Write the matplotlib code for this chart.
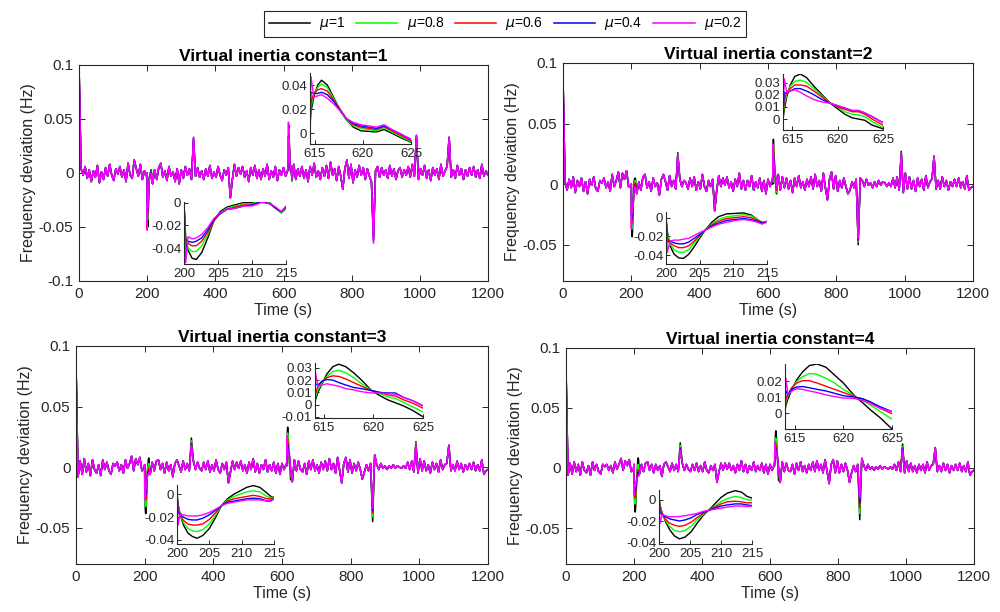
import numpy as np
import matplotlib
matplotlib.use('Agg')
import matplotlib.pyplot as plt
from matplotlib.ticker import FuncFormatter

plt.rcParams['font.family'] = ['Liberation Sans', 'DejaVu Sans']
plt.rcParams['mathtext.fontset'] = 'dejavusans'

mu_labels = ['$\\mu$=1', '$\\mu$=0.8', '$\\mu$=0.6', '$\\mu$=0.4', '$\\mu$=0.2']
mu_colors = ['#000000', '#00ff00', '#ff0000', '#0000ff', '#ff00ff']

# traces sampled every 6 s, values in 1e-3 Hz (all mu overlap outside the events)
t_grid = np.arange(0, 1201, 6)

p1_base = [100, 4, -2, 6, -5, 3, -8, 2, -4, 7,
           -9, 1, -6, 5, -3, 8, -2, -7, 4, -1,
           6, -4, 3, -8, 9, -2, -5, 12, 4, -3,
           8, -6, 2, -3, -40, -20, -10, 3, -6, 5,
           9, -4, 2, -7, 6, -3, 1, -8, 4, -10,
           3, -5, 6, -2, 4, -6, 33, -3, 5, -4,
           2, -6, 4, -3, 7, -5, 1, -4, 6, -2,
           -7, 3, -2, 5, -23, -6, 8, -3, 5, -1,
           6, -4, 2, -8, 5, -2, 7, -5, 3, -6,
           4, -3, 8, -6, 2, -4, 6, -7, 3, -2,
           5, -3, 2, 30, 10, 8, -6, 4, -3, 6,
           -5, 3, -8, 6, -2, 9, -4, 2, -6, 5,
           -3, 7, -5, 10, -2, 4, -7, 6, -3, -15,
           4, 12, -5, 8, -9, 3, -4, 7, -2, 5,
           -6, 4, -3, -8, -65, 2, 6, -4, 5, -2,
           3, -5, 7, -3, 4, -6, 2, 5, -4, 3,
           -2, 6, -4, 8, -3, 35, -6, 4, -2, 7,
           -5, 3, -7, 5, -2, 4, -6, 8, -3, 2,
           6, 33, -4, 3, -5, 7, -2, 4, -6, 3,
           -3, 5, -2, 6, -4, 3, -5, 8, -3, 2,
           -2]
p2_base = [88, 2, -5, 4, -3, 6, -7, 3, -2, 5,
           -6, 2, -8, 4, -1, 6, -4, -6, 3, 1,
           5, -3, 2, -6, 8, -2, 3, 10, -3, 9,
           4, 11, -2, -2, -30, -10, -8, 2, -5, 6,
           8, -3, 2, -6, 5, -2, 1, -9, 4, 8,
           2, -5, 7, -2, 3, -4, 25, 4, -2, 3,
           1, -4, 5, -2, 6, -5, 2, -4, 8, -2,
           -6, 3, -2, 4, -22, -5, 7, -2, 5, -1,
           6, -3, 2, -6, 4, -2, 9, -4, 3, -5,
           3, -2, 7, -5, 2, -3, 5, -6, 3, -8,
           4, -2, 3, 30, 10, 8, -5, 6, -3, 5,
           -4, 3, -7, 5, -2, 7, -3, 2, -5, 4,
           -2, 6, -4, 8, -2, 3, -6, 9, -3, -13,
           4, 10, -4, 7, -6, 3, -3, 5, -2, -8,
           -5, 2, -3, 4, -45, 5, 3, -2, 4, -1,
           1, -3, 2, -2, 3, -1, 2, 1, -2, 1,
           -2, 5, -3, 6, -5, 27, -7, 9, -4, 6,
           -4, 3, -6, 5, -2, 4, -5, 7, -3, 2,
           4, 23, -4, 3, -4, 6, -2, 3, -5, 2,
           -2, 4, -2, 5, -3, 2, -4, 7, -5, -3,
           -2]
p3_base = [85, -8, 5, -6, 7, -4, 3, -7, 6, -2,
           -5, 2, -7, 6, -2, 4, -3, -6, 3, 1,
           4, -3, 2, -5, 6, -1, 3, 9, -3, 7,
           2, 8, -3, -2, -30, -10, -6, 4, -3, 5,
           6, -2, 3, -5, 4, -3, 2, -8, 3, 6,
           1, -4, 5, -2, 3, -3, 18, 5, -2, 4,
           -1, -3, 4, -2, 5, -4, 2, -3, 6, -2,
           -5, 3, -2, 4, -13, -4, 5, -2, 4, -1,
           5, -3, 2, -5, 4, -2, 7, -4, 3, -5,
           2, -2, 6, -4, 2, -3, 4, -5, 3, -6,
           3, -2, 2, 25, 10, -12, 6, -3, 5, -2,
           -4, 3, -6, 5, -2, 6, -3, 2, -5, 4,
           -2, 5, -3, 7, -2, 3, -5, 8, -3, -13,
           3, 8, -4, 6, -5, 3, -3, 4, -2, -10,
           -4, 2, -3, 3, -34, 10, 2, -2, 3, -1,
           1, -2, 1, -1, 2, -1, 1, 0, -1, 1,
           -1, 4, -2, 5, -4, 18, -5, 7, -3, 5,
           -3, 2, -5, 4, -2, 3, -4, 6, -2, 2,
           3, 18, -3, 2, -3, 5, -2, 3, -4, 2,
           -2, 3, -2, 4, -3, 2, -3, 6, -6, -3,
           -2]
p4_base = [82, -6, 4, -5, 5, -3, 3, -6, 5, -2,
           -4, 2, -6, 5, -2, 3, -3, -5, 3, 1,
           3, -2, 2, -4, 5, -1, 3, 8, -2, 6,
           2, 7, -3, -2, -25, -10, -5, 3, -3, 4,
           5, -2, 3, -4, 3, -2, 2, -7, 3, 5,
           1, -3, 4, -2, 3, -3, 15, 4, -2, 3,
           -1, -3, 3, -2, 4, -3, 2, -3, 5, -2,
           -4, 2, -2, 3, -12, -3, 4, -2, 4, -1,
           4, -2, 2, -4, 3, -2, 6, -3, 3, -4,
           2, -2, 5, -3, 2, -2, 4, -4, 3, -5,
           3, -2, 2, 20, 10, -12, 5, -3, 4, -2,
           -3, 3, -5, 4, -2, 5, -3, 2, -4, 3,
           -2, 5, -3, 6, -2, 3, -4, 7, -3, -13,
           3, 7, -4, 6, -4, 3, -3, 4, -2, -12,
           -4, 2, -3, 3, -25, 8, 2, -2, 3, -1,
           1, -2, 1, -1, 2, -1, 1, 0, -1, 1,
           -1, 3, -2, 5, -3, 15, -4, 6, -3, 4,
           -3, 2, -4, 3, -2, 3, -4, 5, -2, 2,
           3, 17, -3, 2, -3, 4, -2, 3, -4, 2,
           -2, 3, -2, 4, -3, 2, -3, 5, -6, -3,
           -2]

# peaks that differ between mu (1e-3 Hz), rows = mu 1 .. 0.2
spike_t = [336, 864, 990]
p1_spk = [[30, -58, 33], [31, -60, 34], [32, -62, 34], [33, -63, 35], [33, -65, 35]]
p2_spk = [[26, -50, 27], [25, -48, 26], [24, -47, 26], [24, -46, 25], [24, -45, 25]]
p3_spk = [[24, -45, 21], [22, -41, 20], [20, -38, 19], [19, -36, 18], [18, -34, 18]]
p4_spk = [[21, -43, 20], [19, -38, 18], [17, -33, 17], [16, -29, 16], [15, -25, 15]]

# zoomed windows (Hz), rows = mu 1 .. 0.2
p1_tA = [200, 200.25, 200.6, 201.2, 201.8, 202.6, 203.5, 204.4, 205.3, 206.3, 207.5, 208.8, 210, 211.4, 212.6, 213.5, 214.3, 215]
p1_A = [[0, -0.030, -0.042, -0.049, -0.050, -0.044, -0.031, -0.016, -0.008, -0.004, -0.002, 0.000, 0.000, 0.003, 0.000, -0.005, -0.009, -0.005],
        [0, -0.034, -0.040, -0.043, -0.043, -0.038, -0.028, -0.016, -0.009, -0.005, -0.003, -0.001, -0.001, 0.002, 0.000, -0.005, -0.009, -0.005],
        [0, -0.038, -0.036, -0.038, -0.038, -0.034, -0.026, -0.016, -0.009, -0.006, -0.004, -0.002, -0.002, 0.001, -0.001, -0.005, -0.008, -0.004],
        [0, -0.042, -0.034, -0.035, -0.034, -0.031, -0.024, -0.015, -0.010, -0.006, -0.005, -0.003, -0.002, 0.001, -0.001, -0.005, -0.008, -0.004],
        [0, -0.053, -0.030, -0.032, -0.031, -0.028, -0.022, -0.014, -0.009, -0.006, -0.005, -0.003, -0.003, 0.000, -0.001, -0.004, -0.008, -0.003]]
p1_tB = [614.5, 614.6, 614.9, 615.3, 615.7, 616.3, 617.0, 617.7, 618.3, 619.0, 619.8, 620.6, 621.4, 622.2, 623.0, 624.0, 625.0]
p1_B = [[0.005, 0.018, 0.030, 0.040, 0.044, 0.040, 0.029, 0.018, 0.011, 0.005, 0.002, 0.0015, 0.001, 0.003, 0.000, -0.004, -0.0075],
        [0.008, 0.022, 0.032, 0.038, 0.041, 0.038, 0.028, 0.019, 0.011, 0.006, 0.004, 0.003, 0.002, 0.0045, 0.001, -0.003, -0.007],
        [0.010, 0.026, 0.033, 0.036, 0.037, 0.035, 0.027, 0.019, 0.012, 0.007, 0.005, 0.004, 0.003, 0.0055, 0.002, -0.002, -0.006],
        [0.012, 0.034, 0.033, 0.033, 0.034, 0.032, 0.026, 0.018, 0.012, 0.008, 0.006, 0.005, 0.004, 0.006, 0.003, -0.001, -0.0055],
        [0.015, 0.047, 0.030, 0.031, 0.032, 0.029, 0.024, 0.018, 0.012, 0.009, 0.007, 0.006, 0.005, 0.007, 0.003, -0.001, -0.005]]

p2_tA = [200, 200.2, 200.6, 201.2, 201.9, 202.6, 203.4, 204.2, 205.0, 205.8, 206.8, 207.8, 209.0, 210.3, 211.5, 212.6, 213.6, 214.3, 215]
p2_A = [[0, -0.015, -0.030, -0.039, -0.043, -0.0435, -0.039, -0.031, -0.022, -0.0135, -0.005, 0.001, 0.004, 0.0045, 0.005, 0.003, -0.002, -0.006, -0.005],
        [0, -0.018, -0.028, -0.034, -0.037, -0.037, -0.034, -0.027, -0.020, -0.0135, -0.007, -0.002, 0.001, 0.002, 0.003, 0.002, -0.002, -0.005, -0.005],
        [0, -0.022, -0.027, -0.030, -0.032, -0.032, -0.030, -0.025, -0.019, -0.0135, -0.008, -0.004, -0.001, 0.000, 0.001, 0.000, -0.003, -0.005, -0.004],
        [0, -0.026, -0.025, -0.027, -0.028, -0.028, -0.026, -0.022, -0.018, -0.0135, -0.009, -0.006, -0.003, -0.002, -0.001, -0.002, -0.004, -0.006, -0.004],
        [0, -0.037, -0.025, -0.024, -0.024, -0.023, -0.022, -0.019, -0.016, -0.0135, -0.010, -0.007, -0.005, -0.003, -0.002, -0.003, -0.005, -0.007, -0.004]]
p2_tB = [614, 614.15, 614.4, 614.8, 615.3, 615.9, 616.6, 617.4, 618.3, 619.2, 620.0, 620.8, 621.6, 622.3, 623.0, 623.8, 625]
p2_B = [[0.000, 0.008, 0.018, 0.028, 0.035, 0.037, 0.034, 0.027, 0.020, 0.013, 0.0085, 0.004, 0.001, 0.000, -0.001, -0.005, -0.008],
        [0.002, 0.012, 0.020, 0.027, 0.031, 0.032, 0.030, 0.025, 0.019, 0.013, 0.010, 0.006, 0.004, 0.0035, 0.002, -0.002, -0.007],
        [0.004, 0.016, 0.022, 0.025, 0.028, 0.028, 0.027, 0.023, 0.018, 0.013, 0.010, 0.008, 0.006, 0.006, 0.004, 0.000, -0.005],
        [0.006, 0.022, 0.021, 0.023, 0.025, 0.025, 0.023, 0.020, 0.016, 0.013, 0.011, 0.009, 0.007, 0.007, 0.005, 0.002, -0.003],
        [0.008, 0.033, 0.022, 0.023, 0.024, 0.022, 0.019, 0.016, 0.014, 0.013, 0.011, 0.009, 0.007, 0.007, 0.005, 0.002, -0.003]]

p3_tA = [200, 200.15, 200.5, 201.0, 201.7, 202.4, 203.1, 204.0, 205.0, 206.0, 206.9, 207.8, 208.8, 209.8, 210.8, 211.8, 212.8, 213.9, 214.5, 215]
p3_A = [[0.002, -0.008, -0.018, -0.027, -0.034, -0.037, -0.0385, -0.036, -0.030, -0.020, -0.010, -0.004, 0.000, 0.003, 0.006, 0.0075, 0.006, 0.001, -0.002, -0.0025],
        [0.002, -0.010, -0.018, -0.025, -0.030, -0.032, -0.0327, -0.031, -0.026, -0.018, -0.010, -0.005, -0.002, 0.000, 0.002, 0.003, 0.002, -0.002, -0.003, -0.002],
        [0.002, -0.013, -0.018, -0.023, -0.026, -0.027, -0.027, -0.026, -0.022, -0.016, -0.010, -0.006, -0.004, -0.003, -0.002, -0.001, -0.002, -0.004, -0.004, -0.003],
        [0.002, -0.016, -0.018, -0.020, -0.022, -0.0225, -0.0225, -0.021, -0.018, -0.014, -0.010, -0.007, -0.006, -0.005, -0.004, -0.0035, -0.004, -0.006, -0.006, -0.004],
        [0.002, -0.027, -0.017, -0.018, -0.019, -0.019, -0.019, -0.018, -0.016, -0.013, -0.010, -0.008, -0.007, -0.006, -0.005, -0.005, -0.005, -0.006, -0.005, -0.004]]
p3_tB = [614.1, 614.15, 614.4, 614.8, 615.3, 615.9, 616.5, 617.2, 618.0, 618.8, 619.8, 620.6, 621.4, 622.2, 623.0, 624.0, 625]
p3_B = [[0.001, 0.004, 0.010, 0.017, 0.025, 0.031, 0.033, 0.031, 0.026, 0.020, 0.0115, 0.0075, 0.004, 0.0015, -0.001, -0.005, -0.010],
        [0.002, 0.006, 0.012, 0.018, 0.023, 0.027, 0.028, 0.026, 0.022, 0.017, 0.0115, 0.009, 0.0065, 0.005, 0.002, -0.002, -0.006],
        [0.003, 0.009, 0.015, 0.019, 0.022, 0.0235, 0.023, 0.021, 0.018, 0.015, 0.0115, 0.010, 0.008, 0.007, 0.004, 0.001, -0.003],
        [0.004, 0.017, 0.016, 0.019, 0.0205, 0.020, 0.018, 0.016, 0.014, 0.013, 0.0115, 0.010, 0.0095, 0.0095, 0.006, 0.003, -0.001],
        [0.005, 0.026, 0.015, 0.016, 0.017, 0.016, 0.015, 0.013, 0.012, 0.0105, 0.0095, 0.0095, 0.009, 0.0085, 0.006, 0.003, -0.001]]

p4_tA = [200, 200.15, 200.5, 201.0, 201.7, 202.5, 203.3, 204.2, 205.2, 206.1, 207.1, 208.0, 209.0, 210.0, 211.0, 212.3, 213.3, 214.2, 215]
p4_A = [[0.003, -0.005, -0.012, -0.020, -0.028, -0.034, -0.0367, -0.035, -0.030, -0.0225, -0.015, -0.010, -0.004, 0.002, 0.006, 0.0084, 0.007, 0.003, 0.0015],
        [0.003, -0.006, -0.012, -0.019, -0.025, -0.029, -0.030, -0.029, -0.025, -0.019, -0.014, -0.010, -0.006, -0.002, 0.001, 0.003, 0.002, 0.000, -0.0005],
        [0.003, -0.008, -0.013, -0.018, -0.022, -0.024, -0.025, -0.024, -0.021, -0.017, -0.013, -0.010, -0.007, -0.004, -0.002, -0.0015, -0.002, -0.003, -0.003],
        [0.003, -0.012, -0.014, -0.016, -0.018, -0.019, -0.020, -0.019, -0.017, -0.014, -0.012, -0.010, -0.008, -0.006, -0.005, -0.004, -0.004, -0.005, -0.0055],
        [0.003, -0.0225, -0.014, -0.015, -0.016, -0.016, -0.0158, -0.015, -0.014, -0.013, -0.011, -0.010, -0.009, -0.008, -0.007, -0.006, -0.006, -0.0065, -0.006]]
p4_tB = [614, 614.1, 614.3, 614.7, 615.2, 615.8, 616.5, 617.3, 618.2, 619.1, 620.0, 620.7, 621.3, 622.0, 622.8, 623.8, 625]
p4_B = [[0.002, 0.005, 0.009, 0.015, 0.021, 0.026, 0.030, 0.031, 0.029, 0.024, 0.019, 0.014, 0.010, 0.0065, 0.002, -0.003, -0.010],
        [0.003, 0.007, 0.011, 0.016, 0.020, 0.023, 0.025, 0.0245, 0.022, 0.019, 0.015, 0.0125, 0.010, 0.008, 0.005, 0.001, -0.0038],
        [0.004, 0.009, 0.012, 0.016, 0.019, 0.0205, 0.0205, 0.019, 0.017, 0.015, 0.013, 0.0115, 0.010, 0.009, 0.007, 0.003, -0.0004],
        [0.006, 0.014, 0.012, 0.015, 0.0165, 0.0168, 0.016, 0.015, 0.014, 0.0125, 0.011, 0.0105, 0.010, 0.009, 0.007, 0.004, 0.001],
        [0.008, 0.022, 0.012, 0.014, 0.0154, 0.015, 0.014, 0.013, 0.0115, 0.0105, 0.0095, 0.0095, 0.009, 0.008, 0.006, 0.003, 0.001]]

titles = ['Virtual inertia constant=1', 'Virtual inertia constant=2',
          'Virtual inertia constant=3', 'Virtual inertia constant=4']

W, H = 1000, 612
AX = '#262626'


def rect(l, t, r, b):
    return [l / W, 1 - b / H, (r - l) / W, (b - t) / H]


def trace(base, spk, k, tA, A, tB, B):
    t = t_grid.astype(float)
    y = np.array(base, float) * 1e-3
    for ts, v in zip(spike_t, spk[k]):
        y[t == ts] = v * 1e-3
    keep = ~(((t >= tA[0]) & (t <= tA[-1])) | ((t >= tB[0]) & (t <= tB[-1])))
    tt = np.concatenate([t[keep], tA, tB])
    yy = np.concatenate([y[keep], A[k], B[k]])
    o = np.argsort(tt)
    return tt[o], yy[o]


fmt = FuncFormatter(lambda v, p: '0' if abs(v) < 1e-12 else '%g' % v)

panels = [
    (p1_base, p1_spk, p1_tA, p1_A, p1_tB, p1_B, rect(79, 65, 488, 281), (-0.1, 0.1), [-0.1, -0.05, 0, 0.05, 0.1],
     rect(184, 202, 286, 264), (-0.054, 0.0005), [-0.04, -0.02, 0],
     rect(310, 73, 411, 144), (614.5, 625), (-0.009, 0.05), [0, 0.02, 0.04]),
    (p2_base, p2_spk, p2_tA, p2_A, p2_tB, p2_B, rect(563, 63, 973, 281), (-0.08, 0.1), [-0.05, 0, 0.05, 0.1],
     rect(666, 212, 767, 264), (-0.0495, 0.006), [-0.04, -0.02, 0],
     rect(783, 74, 883, 130), (614, 625), (-0.009, 0.037), [0, 0.01, 0.02, 0.03]),
    (p3_base, p3_spk, p3_tA, p3_A, p3_tB, p3_B, rect(76, 346, 488, 564), (-0.08, 0.1), [-0.05, 0, 0.05, 0.1],
     rect(177, 485, 274, 544), (-0.0435, 0.008), [-0.04, -0.02, 0],
     rect(315, 363, 423, 418), (614.1, 625), (-0.011, 0.034), [-0.01, 0, 0.01, 0.02, 0.03]),
    (p4_base, p4_spk, p4_tA, p4_A, p4_tB, p4_B, rect(566, 348, 974, 564), (-0.08, 0.1), [-0.05, 0, 0.05, 0.1],
     rect(659, 490, 752, 544), (-0.0415, 0.009), [-0.04, -0.02, 0],
     rect(785, 364, 892, 429), (614, 625), (-0.01, 0.031), [0, 0.01, 0.02]),
]

fig = plt.figure(figsize=(10, 6.12), dpi=100)

handles = []
for i, (base, spk, tA, A, tB, B, pos, ylim, yt, posA, ylA, ytA, posB, xlB, ylB, ytB) in enumerate(panels):
    ax = fig.add_axes(pos)
    curves = [trace(base, spk, k, tA, A, tB, B) for k in range(5)]
    for k, (tt, yy) in enumerate(curves):
        ln, = ax.plot(tt, yy, color=mu_colors[k], lw=1.1)
        if i == 0:
            handles.append(ln)
    ax.set_xlim(0, 1200)
    ax.set_ylim(*ylim)
    ax.set_xticks(range(0, 1201, 200))
    ax.set_yticks(yt)
    ax.yaxis.set_major_formatter(fmt)
    ax.tick_params(direction='in', top=True, right=True, labelsize=11, colors=AX, length=4, width=0.7, pad=4)
    for s in ax.spines.values():
        s.set_color(AX)
        s.set_linewidth(0.8)
    ax.set_xlabel('Time (s)', fontsize=11.5, color=AX, labelpad=2)
    ax.set_ylabel('Frequency deviation (Hz)', fontsize=11.5, color=AX, labelpad=2)
    ax.set_title(titles[i], fontsize=12.5, fontweight='bold', pad=3)

    for ipos, xl, yl, ytk, xtk in [(posA, (200, 215), ylA, ytA, [200, 205, 210, 215]),
                                    (posB, xlB, ylB, ytB, [615, 620, 625])]:
        ia = fig.add_axes(ipos)
        for k, (tt, yy) in enumerate(curves):
            m = (tt >= xl[0] - 1) & (tt <= xl[1] + 1)
            ia.plot(tt[m], yy[m], color=mu_colors[k], lw=1.0)
        ia.set_xlim(*xl)
        ia.set_ylim(*yl)
        ia.set_xticks(xtk)
        ia.set_yticks(ytk)
        ia.yaxis.set_major_formatter(fmt)
        ia.patch.set_alpha(0)
        ia.spines['top'].set_visible(False)
        ia.spines['right'].set_visible(False)
        for s in ('left', 'bottom'):
            ia.spines[s].set_color(AX)
            ia.spines[s].set_linewidth(0.8)
        ia.tick_params(direction='in', labelsize=9.5, colors=AX, length=3, width=0.7, pad=2)
        ia.tick_params(axis='x', pad=3)

leg = fig.legend(handles, mu_labels, loc='center', bbox_to_anchor=(505 / W, 1 - 24 / H), ncol=5,
                 fancybox=False, framealpha=1, edgecolor=AX, fontsize=10, handlelength=3.0,
                 columnspacing=0.75, handletextpad=0.65, borderpad=0.3, borderaxespad=0)
leg.get_frame().set_linewidth(0.8)

fig.savefig('out.png', dpi=100)
